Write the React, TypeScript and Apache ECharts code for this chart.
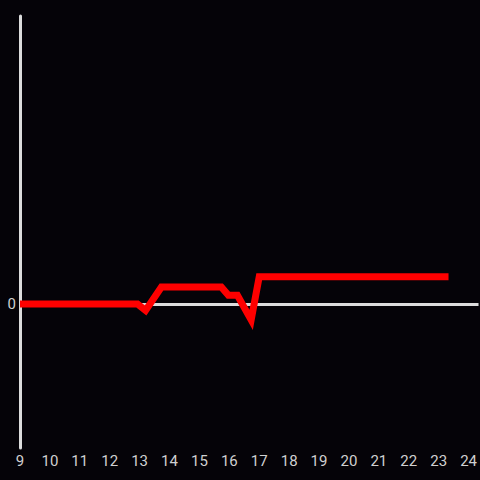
import React, { useEffect, useRef } from "react";
import * as echarts from "echarts";

const hours = [9, 10, 11, 12, 12.93, 13.2, 13.73, 15.73, 15.97, 16.27, 16.73, 17, 23.33];
const values = [0, 0, 0, 0, 0, -0.045, 0.118, 0.118, 0.06, 0.06, -0.11, 0.19, 0.19];
const xMin = 9;
const xMax = 24.333;
const yMin = -1;
const yMax = 2;

export default function App() {
  const ref = useRef<HTMLDivElement>(null);
  useEffect(() => {
    document.body.style.margin = "0";
    document.body.style.background = "#050308";
    const chart = echarts.init(ref.current!, undefined, { renderer: "svg" });
    chart.setOption({
      animation: false,
      backgroundColor: "#050308",
      grid: { left: 20, right: 0, top: 16, bottom: 32 },
      xAxis: {
        type: "value",
        min: xMin,
        max: xMax,
        interval: 1,
        axisLine: { show: false, onZero: false },
        axisTick: { show: false },
        splitLine: { show: false },
        axisLabel: { color: "#d0d0d0", fontSize: 15, margin: 5, fontFamily: "Roboto, sans-serif" },
      },
      yAxis: {
        type: "value",
        min: yMin,
        max: yMax,
        interval: 1,
        axisLine: { show: true, lineStyle: { color: "#dcdcdc", width: 3 } },
        axisTick: { show: false },
        splitLine: { show: false },
        axisLabel: {
          color: "#d0d0d0",
          fontSize: 15,
          margin: 4,
          fontFamily: "Roboto, sans-serif",
          formatter: (v: number) => (v === 0 ? "0" : ""),
        },
      },
      series: [
        {
          type: "line",
          data: [],
          z: 1,
          markLine: {
            silent: true,
            symbol: "none",
            label: { show: false },
            lineStyle: { color: "#dcdcdc", width: 3, type: "solid" },
            data: [{ yAxis: 0 }],
          },
        },
        {
          type: "line",
          z: 5,
          data: hours.map((h, i) => [h, values[i]]),
          showSymbol: false,
          lineStyle: { color: "#ff0000", width: 7, join: "miter" },
          itemStyle: { color: "#ff0000" },
        },
      ],
    });
    return () => chart.dispose();
  }, []);
  return <div ref={ref} style={{ width: 480, height: 480 }} />;
}
